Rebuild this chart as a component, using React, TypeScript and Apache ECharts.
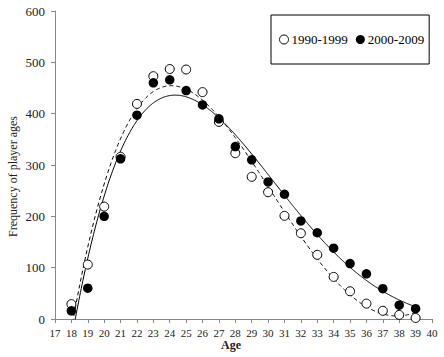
import React, { useEffect, useRef } from "react";
import * as echarts from "echarts";

const ages = [18, 19, 20, 21, 22, 23, 24, 25, 26, 27, 28, 29, 30, 31, 32, 33, 34, 35, 36, 37, 38, 39];
const freq1990s = [29, 106, 219, 316, 419, 473, 487, 486, 442, 384, 323, 277, 247, 201, 167, 125, 82, 54, 30, 16, 8, 2];
const freq2000s = [16, 60, 200, 312, 397, 460, 466, 445, 417, 390, 336, 310, 267, 243, 191, 168, 138, 108, 88, 59, 27, 20];
const yTicks = [0, 100, 200, 300, 400, 500, 600];
const xRange = [17, 40];
const seriesNames = ["1990-1999", "2000-2009"];
const FIT_DEGREE = 4;

function polyfit(xs: number[], ys: number[], deg: number, c: number) {
  const n = deg + 1;
  const A: number[][] = [];
  const b: number[] = [];
  for (let i = 0; i < n; i++) {
    A.push(new Array(n).fill(0));
    b.push(0);
  }
  for (let k = 0; k < xs.length; k++) {
    const u = xs[k] - c;
    for (let i = 0; i < n; i++) {
      b[i] += ys[k] * Math.pow(u, i);
      for (let j = 0; j < n; j++) A[i][j] += Math.pow(u, i + j);
    }
  }
  for (let i = 0; i < n; i++) {
    let p = i;
    for (let r = i + 1; r < n; r++) if (Math.abs(A[r][i]) > Math.abs(A[p][i])) p = r;
    [A[i], A[p]] = [A[p], A[i]];
    [b[i], b[p]] = [b[p], b[i]];
    for (let r = i + 1; r < n; r++) {
      const f = A[r][i] / A[i][i];
      for (let j = i; j < n; j++) A[r][j] -= f * A[i][j];
      b[r] -= f * b[i];
    }
  }
  const coef = new Array(n).fill(0);
  for (let i = n - 1; i >= 0; i--) {
    let s = b[i];
    for (let j = i + 1; j < n; j++) s -= A[i][j] * coef[j];
    coef[i] = s / A[i][i];
  }
  return (x: number) => coef.reduce((acc, a, i) => acc + a * Math.pow(x - c, i), 0);
}

function trend(ys: number[]) {
  const f = polyfit(ages, ys, FIT_DEGREE, 28);
  const pts: number[][] = [];
  const x0 = ages[0];
  const x1 = ages[ages.length - 1];
  for (let i = 0; i <= (x1 - x0) * 20; i++) {
    const x = x0 + i / 20;
    pts.push([x, f(x)]);
  }
  return pts;
}

const FONT = "Liberation Serif";

export default function App() {
  const ref = useRef<HTMLDivElement>(null);
  useEffect(() => {
    if (!ref.current) return;
    const chart = echarts.init(ref.current, undefined, { renderer: "svg" });
    chart.setOption({
      animation: false,
      backgroundColor: "#fff",
      textStyle: { fontFamily: FONT },
      grid: { left: 55, right: 12, top: 11, bottom: 38, containLabel: false },
      legend: {
        data: [
          { name: seriesNames[0], itemStyle: { color: "#fff", borderColor: "#000", borderWidth: 1 } },
          { name: seriesNames[1], itemStyle: { color: "#000" } },
        ],
        left: 271,
        top: 15,
        orient: "horizontal",
        icon: "circle",
        itemWidth: 9,
        itemHeight: 9,
        itemGap: 8,
        padding: [18, 5, 18, 8],
        borderColor: "#000",
        borderWidth: 1,
        textStyle: { fontFamily: FONT, fontSize: 13, color: "#000", padding: [0, 0, 0, -2] },
      },
      xAxis: {
        type: "value",
        min: xRange[0],
        max: xRange[1],
        interval: 1,
        splitLine: { show: false },
        axisLine: { lineStyle: { color: "#888" } },
        axisTick: { show: true, length: 4, lineStyle: { color: "#888" } },
        axisLabel: { fontFamily: FONT, fontSize: 11, color: "#222", margin: 8 },
      },
      yAxis: {
        type: "value",
        min: yTicks[0],
        max: yTicks[yTicks.length - 1],
        interval: 100,
        splitLine: { show: false },
        axisLine: { show: true, lineStyle: { color: "#888" } },
        axisTick: { show: true, length: 4, lineStyle: { color: "#888" } },
        axisLabel: { fontFamily: FONT, fontSize: 13, color: "#222", margin: 10 },
      },
      graphic: [
        {
          type: "text",
          left: 221,
          top: 339,
          style: { text: "Age", font: `bold 12px "${FONT}"`, fill: "#222" },
        },
        {
          type: "text",
          x: 7,
          y: 237,
          rotation: Math.PI / 2,
          style: { text: "Frequency of player ages", font: `12px "${FONT}"`, fill: "#222" },
        },
      ],
      series: [
        {
          name: seriesNames[0] + " trend",
          type: "line",
          data: trend(freq1990s),
          showSymbol: false,
          symbol: "none",
          clip: true,
          lineStyle: { color: "#000", width: 1, type: [4, 3] },
          z: 2,
        },
        {
          name: seriesNames[1] + " trend",
          type: "line",
          data: trend(freq2000s),
          showSymbol: false,
          symbol: "none",
          clip: true,
          lineStyle: { color: "#000", width: 1 },
          z: 2,
        },
        {
          name: seriesNames[0],
          type: "scatter",
          data: ages.map((a, i) => [a, freq1990s[i]]),
          symbol: "circle",
          symbolSize: 9,
          itemStyle: { color: "#fff", borderColor: "#000", borderWidth: 1, opacity: 1 },
          z: 3,
        },
        {
          name: seriesNames[1],
          type: "scatter",
          data: ages.map((a, i) => [a, freq2000s[i]]),
          symbol: "circle",
          symbolSize: 9.5,
          itemStyle: { color: "#000", opacity: 1 },
          z: 4,
        },
      ],
    });
    return () => chart.dispose();
  }, []);
  return <div ref={ref} style={{ width: 444, height: 357, position: "absolute", left: 0, top: 0 }} />;
}
